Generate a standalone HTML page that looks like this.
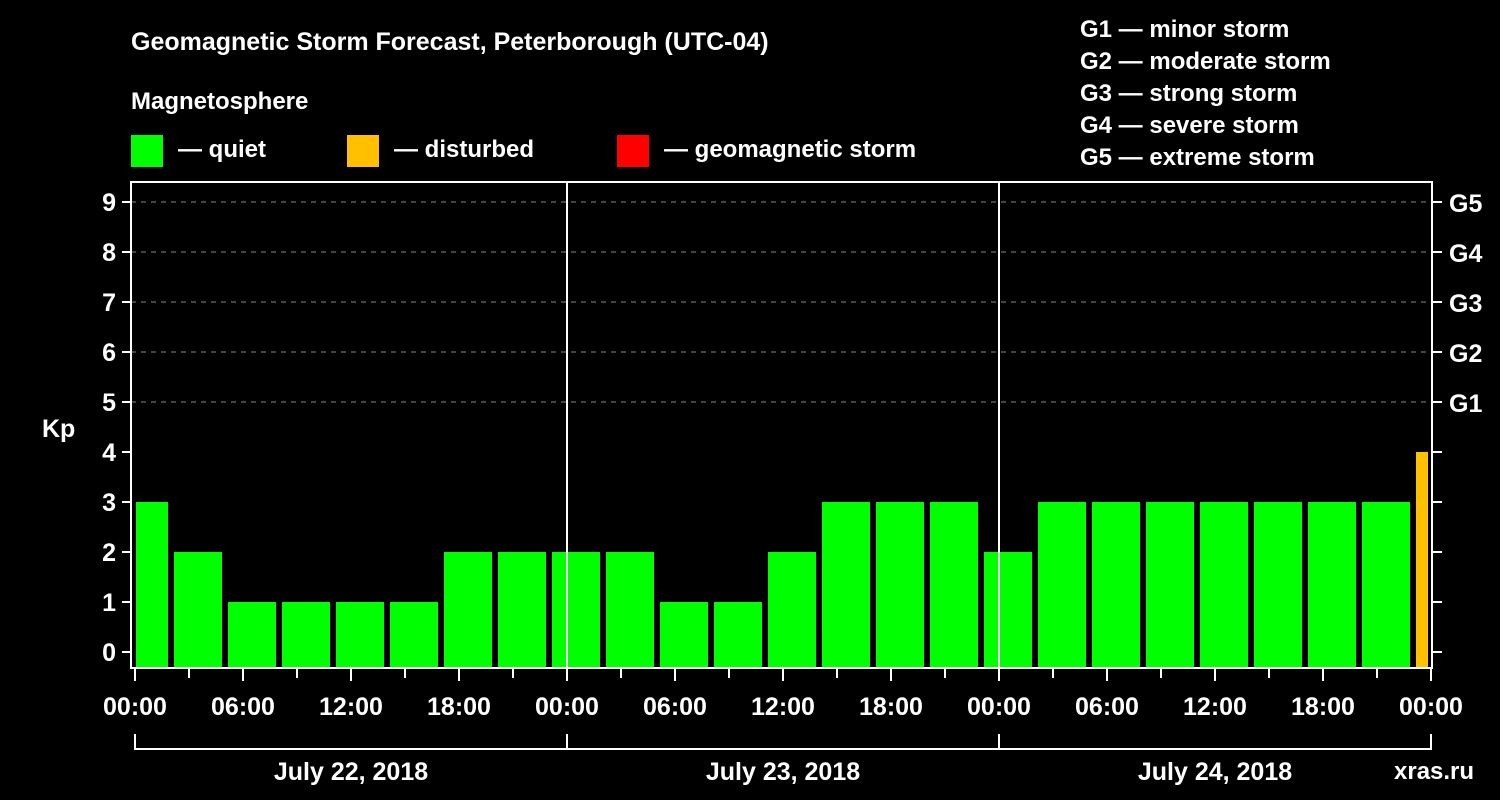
<!DOCTYPE html>
<html><head><meta charset="utf-8"><style>
body{margin:0;background:#000;width:1500px;height:800px;overflow:hidden}
svg{display:block}
text{font-family:"Liberation Sans",Arial,sans-serif;font-weight:bold;fill:#fff}
</style></head><body>
<svg id="c" width="1500" height="800">
<text x="131" y="50" font-size="25">Geomagnetic Storm Forecast, Peterborough (UTC-04)</text>
<text x="131" y="109" font-size="24">Magnetosphere</text>
<rect x="131" y="135" width="32" height="32" fill="#00ff00"/>
<text x="178" y="157" font-size="24">— quiet</text>
<rect x="347" y="135" width="32" height="32" fill="#ffc000"/>
<text x="394" y="157" font-size="24">— disturbed</text>
<rect x="617" y="135" width="32" height="32" fill="#ff0000"/>
<text x="664" y="157" font-size="24">— geomagnetic storm</text>
<g font-size="24">
<text x="1080" y="37">G1 — minor storm</text>
<text x="1080" y="69">G2 — moderate storm</text>
<text x="1080" y="101">G3 — strong storm</text>
<text x="1080" y="133">G4 — severe storm</text>
<text x="1080" y="165">G5 — extreme storm</text>
</g>
<text x="42" y="437" font-size="25">Kp</text>
<text x="1394" y="779" font-size="24" fill="#fff">xras.ru</text>
<defs><clipPath id="pc"><rect x="136" y="182" width="1292" height="486"/></clipPath></defs>
<g id="grid"></g><g id="bars" clip-path="url(#pc)"></g><g id="axes"></g>
</svg>
<script>
const kpValues=[3,2,1,1,1,1,2,2,2,2,1,1,2,3,3,3,2,3,3,3,3,3,3,3,4];
const yTicks=[0,1,2,3,4,5,6,7,8,9];
const gLabels=["G1","G2","G3","G4","G5"];
const gLevels=[5,6,7,8,9];
const xTickLabels=["00:00","06:00","12:00","18:00","00:00","06:00","12:00","18:00","00:00","06:00","12:00","18:00","00:00"];
const dayLabels=["July 22, 2018","July 23, 2018","July 24, 2018"];
const NS="http://www.w3.org/2000/svg";
const X=h=>135+h*18, Y=v=>652-v*50;
function mk(p,t,a){const e=document.createElementNS(NS,t);for(const k in a)e.setAttribute(k,a[k]);p.appendChild(e);return e;}
const grid=document.getElementById('grid'),bars=document.getElementById('bars'),axes=document.getElementById('axes');
gLevels.forEach(v=>{const l=mk(grid,'line',{x1:131,x2:1432,y1:Y(v),y2:Y(v),stroke:'#888','stroke-dasharray':'5,5','stroke-width':1});

});
kpValues.forEach((v,i)=>{const col=v>=5?'#ff0000':v>=4?'#ffc000':'#00ff00';
const r=mk(bars,'rect',{x:X(i*3)-15,y:Y(v),width:48,height:667-Y(v),fill:col});

});
[1,2].forEach(d=>{const l=mk(axes,'line',{x1:X(d*24),x2:X(d*24),y1:182,y2:668,stroke:'#fff','stroke-width':2});

});
const fr=mk(axes,'rect',{x:131,y:182,width:1301,height:486,fill:'none',stroke:'#fff','stroke-width':2});


yTicks.forEach(v=>{mk(axes,'line',{x1:122,x2:131,y1:Y(v),y2:Y(v),stroke:'#fff','stroke-width':2});
mk(axes,'line',{x1:1432,x2:1442,y1:Y(v),y2:Y(v),stroke:'#fff','stroke-width':2});
const t=mk(axes,'text',{x:116,y:Y(v)+9,'text-anchor':'end','font-size':25});t.textContent=v;

});
gLevels.forEach((v,i)=>{const t=mk(axes,'text',{x:1449,y:Y(v)+10,'font-size':25});t.textContent=gLabels[i];

});
for(let h=0;h<=72;h+=3){const maj=h%6===0;mk(axes,'line',{x1:X(h),x2:X(h),y1:669,y2:maj?681:678,stroke:'#fff','stroke-width':2});}
xTickLabels.forEach((s,i)=>{const t=mk(axes,'text',{x:X(i*6),y:715,'text-anchor':'middle','font-size':25});t.textContent=s;

});
mk(axes,'line',{x1:X(0),x2:X(72),y1:749,y2:749,stroke:'#fff','stroke-width':2});
for(let d=0;d<=3;d++)mk(axes,'line',{x1:X(d*24),x2:X(d*24),y1:734,y2:750,stroke:'#fff','stroke-width':2});
dayLabels.forEach((s,i)=>{const t=mk(axes,'text',{x:X(i*24+12),y:780,'text-anchor':'middle','font-size':25});t.textContent=s;

});
</script>
</body></html>
